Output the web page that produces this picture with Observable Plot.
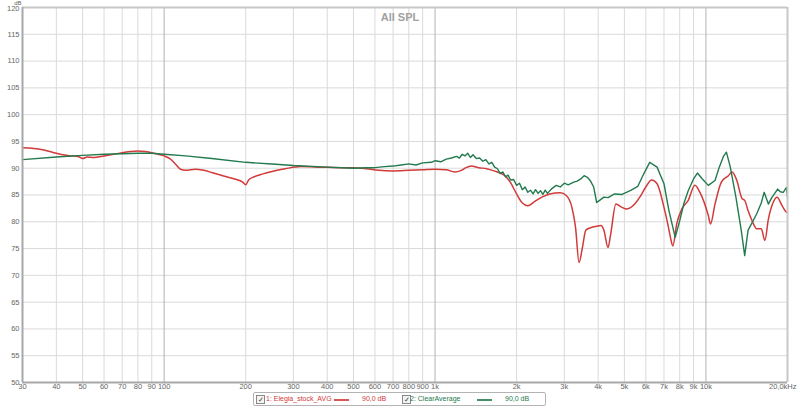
<!DOCTYPE html>
<html><head><meta charset="utf-8">
<script src="https://cdn.jsdelivr.net/npm/d3@7"></script>
<script src="https://cdn.jsdelivr.net/npm/@observablehq/plot@0.6"></script>
<style>
body{margin:0;background:#fff;font-family:"Liberation Sans",Arial,sans-serif;}
#wrap{position:relative;width:800px;height:406px;overflow:hidden;}
#legend{position:absolute;left:253px;top:392px;width:291px;height:12px;border:1px solid #b4b4b4;border-radius:2px;font-size:7px;line-height:12px;}
#legend span,#legend i,#legend b{position:absolute;}
.cb{top:2px;width:7px;height:7px;border:1px solid #888;background:#f4f4f4;font-size:7px;line-height:7px;text-align:center;color:#333;font-style:normal;}
.ln{top:5.5px;height:2px;}
</style></head>
<body><div id="wrap"><div id="chart"></div>
<div id="legend"></div></div>
<script>
const redFreq = [30,33,36,40,45,48,50,52,55,60,65,70,75,80,85,90,95,100,105,110,115,120,130,140,150,170,185,195,200,205,215,230,250,280,320,380,450,500,560,620,700,800,900,1000,1100,1180,1250,1300,1360,1450,1550,1650,1800,1900,2000,2100,2200,2350,2500,2650,2900,3050,3200,3300,3400,3500,3600,3750,3900,4100,4200,4350,4450,4650,4900,5100,5500,5700,6000,6300,6600,7000,7250,7400,7550,7800,8150,8600,9100,9500,10200,10400,10800,11400,12100,12500,13000,13600,13900,14300,14800,15400,16000,16500,17000,17700,18300,19100,19800,20000];
const redDb = [93.8,93.7,93.4,92.8,92.3,92.2,91.8,92.1,92.0,92.3,92.6,92.9,93.1,93.2,93.1,92.9,92.6,92.3,91.8,90.8,89.8,89.6,89.8,89.6,89.2,88.4,87.9,87.4,86.9,87.8,88.4,88.9,89.4,89.9,90.3,90.2,90.1,90.1,89.9,89.6,89.5,89.6,89.7,89.8,89.7,89.3,89.6,90.1,90.4,90.1,89.9,89.5,88.7,87.3,85.2,83.5,83.0,83.9,84.7,85.2,85.4,84.9,82.7,79.0,72.4,75.2,78.4,78.9,79.1,79.3,78.4,75.2,77.7,83.3,82.7,82.4,83.5,84.6,86.5,87.8,87.1,82.7,79.3,77.0,75.5,79.6,82.4,84.0,86.8,85.5,81.2,79.6,83.3,87.4,88.6,89.3,87.7,84.3,84.0,82.1,80.2,78.7,78.7,76.5,80.5,83.6,84.6,83.0,81.8,81.7];
const greenFreq = [30,40,50,60,70,80,90,100,120,150,200,250,300,400,500,560,600,650,700,750,800,850,900,970,1000,1050,1100,1150,1200,1230,1260,1290,1320,1350,1380,1420,1460,1500,1540,1580,1620,1660,1700,1740,1780,1820,1860,1900,1950,2000,2050,2100,2150,2200,2250,2300,2350,2400,2450,2500,2550,2600,2700,2800,2900,3000,3100,3250,3350,3450,3550,3650,3750,3850,3950,4050,4200,4350,4600,4900,5300,5600,5900,6200,6600,7000,7300,7700,8000,8300,8600,9000,9300,9700,10200,10800,11200,11600,11900,12300,12900,13500,13900,14300,15400,16000,16400,17000,17500,18400,18800,19300,19800,20000];
const greenDb = [91.6,92.1,92.4,92.6,92.7,92.8,92.8,92.6,92.3,91.8,91.1,90.8,90.5,90.2,90.0,90.1,90.1,90.3,90.4,90.6,90.8,90.6,91.0,91.1,91.4,91.2,91.7,91.9,92.2,91.9,92.6,92.3,92.8,92.0,92.5,91.8,91.9,91.3,91.6,90.8,91.1,90.2,89.9,89.0,89.3,88.4,88.7,87.8,87.9,86.8,87.2,86.0,86.5,85.5,85.9,85.2,86.0,85.3,85.8,85.1,85.9,85.3,86.2,86.8,86.5,87.2,86.9,87.4,87.6,88.0,88.6,88.3,87.6,86.5,83.6,84.0,84.6,84.5,85.2,85.1,85.9,86.6,89.0,91.1,90.2,87.1,82.1,77.1,80.2,83.5,85.8,88.0,89.1,88.0,86.8,87.7,90.2,92.2,93.0,90.2,84.6,78.4,73.7,78.4,81.5,83.5,85.5,83.3,84.5,86.1,85.6,85.5,86.4,84.6];
const xTicks = [30,40,50,60,70,80,90,100,200,300,400,500,600,700,800,900,1000,2000,3000,4000,5000,6000,7000,8000,9000,10000,20000];
const xTickLabels = ["30","40","50","60","70","80","90","100","200","300","400","500","600","700","800","900","1k","2k","3k","4k","5k","6k","7k","8k","9k","10k","20,0kHz"];
const majorX = [100,1000,10000];
const yTicks = [50,55,60,65,70,75,80,85,90,95,100,105,110,115,120];
const seriesNames = ["1: Elegia_stock_AVG","2: ClearAverage"];
const seriesLevels = ["90,0 dB","90,0 dB"];
const seriesColors = ["#d23a3a","#237a4e"];
const title = "All SPL";
const yUnit = "dB";

const red = redFreq.map((f,i)=>({f,db:redDb[i]}));
const green = greenFreq.map((f,i)=>({f,db:greenDb[i]}));
const minorX = xTicks.filter(t=>!majorX.includes(t) && t!==30 && t!==20000);
const lastTick = xTicks.length-1;
const topY = yTicks[yTicks.length-1];

const chart = Plot.plot({
  width:800, height:394,
  marginLeft:22, marginRight:13, marginTop:7, marginBottom:12,
  style:{fontFamily:"'Liberation Sans',Arial,sans-serif", background:"#fff"},
  x:{type:"log", domain:[30,20000], axis:null},
  y:{domain:[50,120], axis:null},
  marks:[
    Plot.ruleY(yTicks,{stroke:"#dadada", strokeWidth:1}),
    Plot.ruleX(minorX,{stroke:"#dadada", strokeWidth:1}),
    Plot.ruleX(majorX,{stroke:"#b2b2b2", strokeWidth:1}),
    Plot.line(red,{x:"f", y:"db", stroke:seriesColors[0], strokeWidth:1.5, curve:"monotone-x"}),
    Plot.line(green,{x:"f", y:"db", stroke:seriesColors[1], strokeWidth:1.4, curve:"linear"}),
    Plot.ruleX([20000],{stroke:"#c8c8c8", strokeWidth:2}),
    Plot.ruleY([120],{stroke:"#c8c8c8", strokeWidth:2}),
    Plot.ruleX([30],{stroke:"#a8a8a8", strokeWidth:2}),
    Plot.ruleY([50],{stroke:"#a8a8a8", strokeWidth:2}),
    Plot.text(xTicks.slice(0,lastTick),{x:d=>d, text:(d,i)=>xTickLabels[i], frameAnchor:"bottom", dy:6, fontSize:7.5, fill:"#666"}),
    Plot.text([xTicks[lastTick]],{x:d=>d, text:()=>xTickLabels[lastTick], frameAnchor:"bottom", dy:6, dx:9, textAnchor:"end", fontSize:7.5, fill:"#666"}),
    Plot.text(yTicks.filter(t=>t!==topY),{y:d=>d, text:d=>String(d), frameAnchor:"left", dx:-3, textAnchor:"end", fontSize:7.5, fill:"#666"}),
    Plot.text([topY],{y:d=>d, text:d=>String(d), frameAnchor:"left", dx:-3, dy:1.5, textAnchor:"end", fontSize:7.5, fill:"#666"}),
    Plot.text([title],{frameAnchor:"top", dx:-5, dy:6, fontSize:11, fontWeight:"bold", fill:"#a0a0a0"}),
    Plot.text([yUnit],{frameAnchor:"top-left", dx:-1, dy:-7, lineAnchor:"top", textAnchor:"end", fontSize:6, fill:"#666"})
  ]
});
document.getElementById("chart").appendChild(chart);

const lg = document.getElementById("legend");
const pos = [{cb:0,name:12,line:80,lvl:108},{cb:146,name:156,line:223,lvl:251}];
seriesNames.forEach((n,i)=>{
  const p = pos[i];
  lg.insertAdjacentHTML("beforeend",
    `<i class="cb" style="left:${p.cb+2}px">&#10003;</i>`+
    `<span style="left:${p.name}px;color:${seriesColors[i]}">${n}</span>`+
    `<b class="ln" style="left:${p.line}px;width:15px;background:${seriesColors[i]};opacity:0.85"></b>`+
    `<span style="left:${p.lvl}px;color:${seriesColors[i]}">${seriesLevels[i]}</span>`);
});
</script>
</body></html>
